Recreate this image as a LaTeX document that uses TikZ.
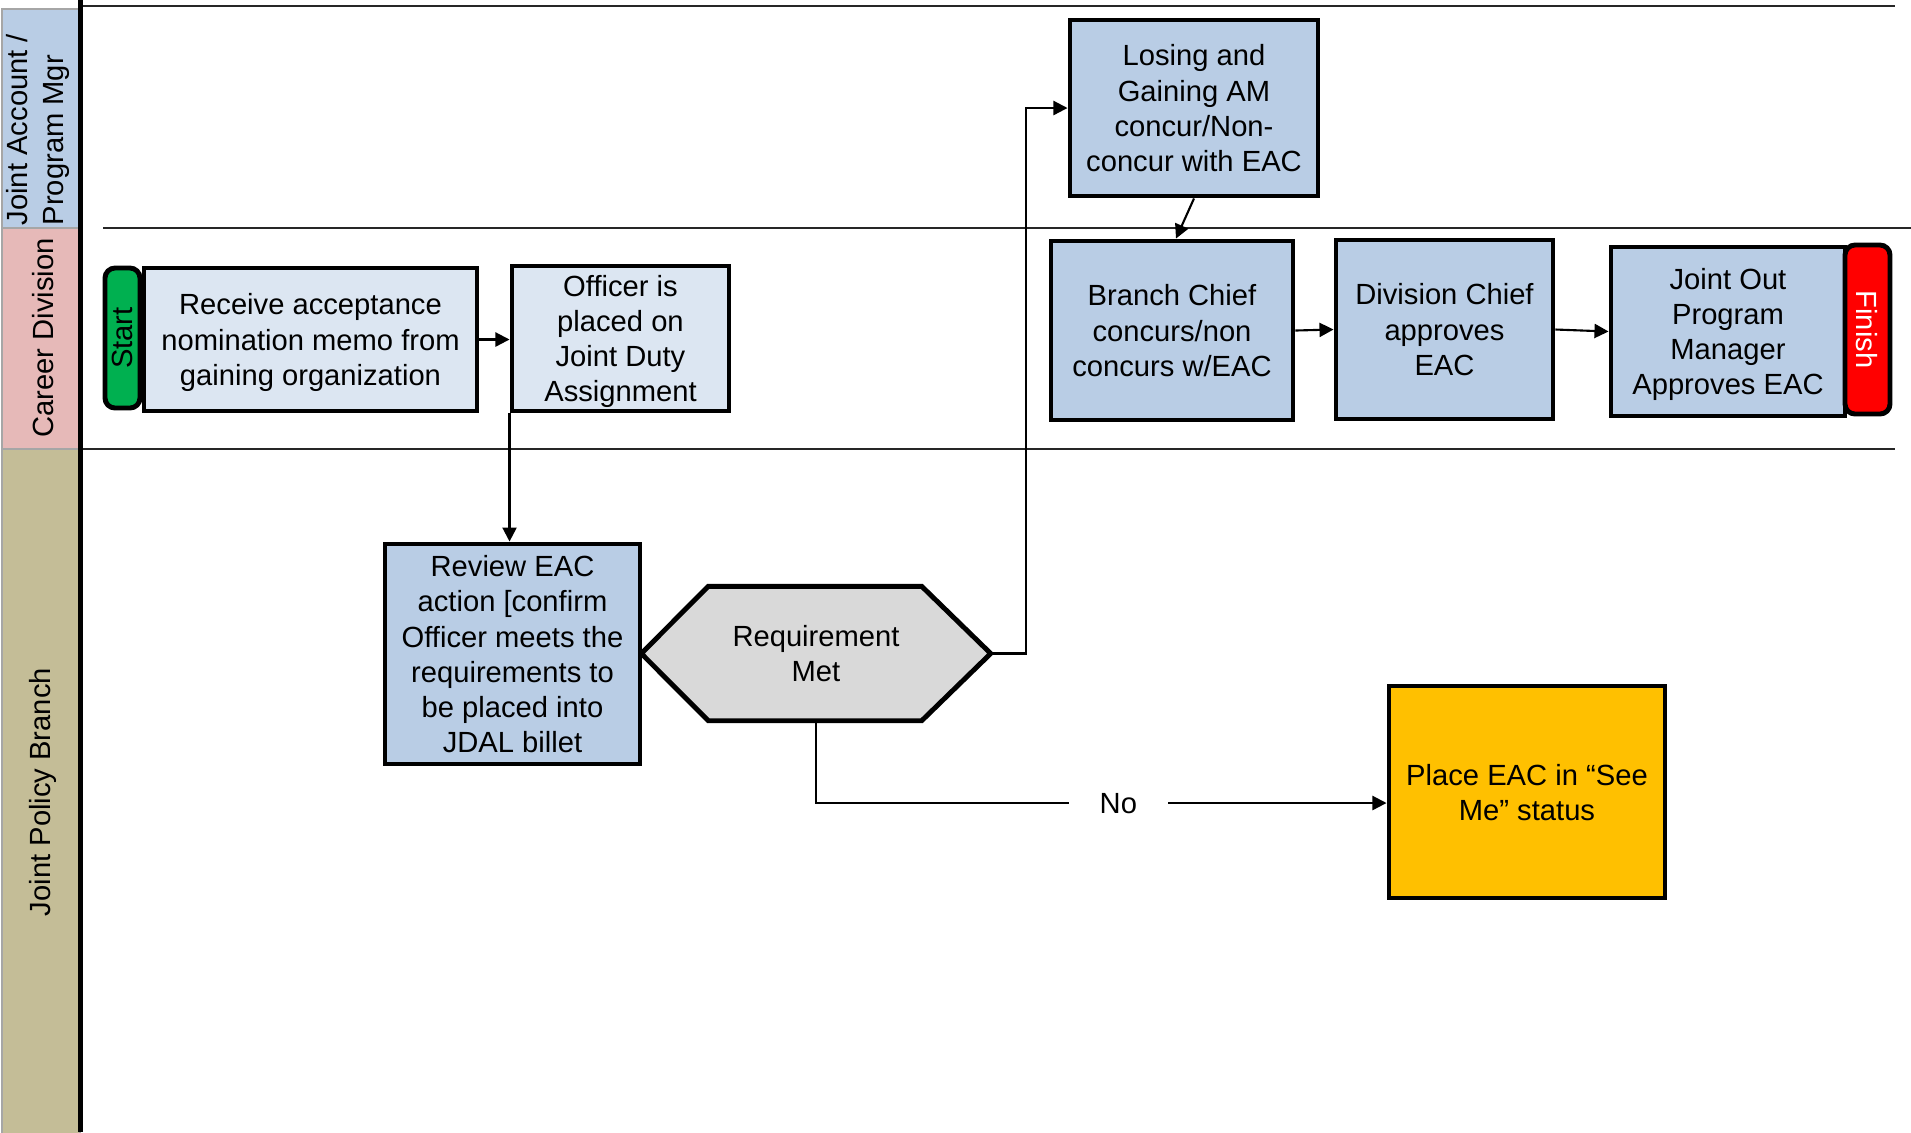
\documentclass[tikz,border=0pt]{standalone}
\usepackage{fontspec}
\setmainfont{Liberation Sans}
\usetikzlibrary{arrows.meta,calc,backgrounds}

\definecolor{laneblue}{HTML}{B9CDE5}
\definecolor{lanepink}{HTML}{E6B9B8}
\definecolor{lanetan}{HTML}{C4BD97}
\definecolor{boxlight}{HTML}{DCE6F2}
\definecolor{boxblue}{HTML}{B9CDE5}
\definecolor{decgray}{HTML}{D9D9D9}
\definecolor{seeme}{HTML}{FFC000}
\definecolor{startgreen}{HTML}{00B050}
\definecolor{finishred}{HTML}{FF0000}

\begin{document}
\begin{tikzpicture}[x=0.1mm,y=-0.1mm,
  every node/.style={font=\fontsize{8.3pt}{10pt}\selectfont, inner sep=0pt, align=center, text depth=0pt},
  proc/.style={draw=black, line width=1.4pt, fill=boxblue},
  lightproc/.style={proc, fill=boxlight},
  term/.style={draw=black, line width=1.4pt, rounded corners=1mm},
  flow/.style={line width=0.6pt, -{Triangle[length=4pt,width=4pt]}},
  laneline/.style={line width=0.6pt, black!85},
  lanehead/.style={draw=gray!70, line width=0.5pt},
]
\useasboundingbox (0,0) rectangle (1911,1132);

% swimlane headers
\path[lanehead, fill=laneblue] (2,9) rectangle (80,228);
\path[lanehead, fill=lanepink] (2,228) rectangle (80,449);
\path[lanehead, fill=lanetan] (2,449) rectangle (80,1140);
\draw[line width=1.7pt] (80.5,0) -- (80.5,1132);

\node[rotate=90, anchor=west, align=left] (hdrjam) at (35,226) {Joint Account /\\Program Mgr};
\node[rotate=90] (hdrcd) at (42.5,338) {Career Division};
\node[rotate=90] (hdrjpb) at (40,792) {Joint Policy Branch};

% lane separators
\draw[laneline] (83,6) -- (1895,6);
\draw[laneline] (103,228) -- (1911,228);
\draw[laneline] (83,449) -- (1895,449);

% Career Division lane
\node[term, fill=startgreen, rotate=90, minimum width=14mm, minimum height=3.5mm] (start) at (122.5,338) {Start};
\node[lightproc, minimum width=33.3mm, minimum height=14.3mm] (recv) at (310.5,339.5)
  {Receive acceptance\\nomination memo from\\gaining organization};
\node[lightproc, minimum width=21.7mm, minimum height=14.5mm] (officer) at (620.5,338.5)
  {Officer is\\placed on\\Joint Duty\\Assignment};
\node[proc, minimum width=24.2mm, minimum height=17.9mm] (branch) at (1172,330.5)
  {Branch Chief\\concurs/non\\concurs w/EAC};
\node[proc, minimum width=21.7mm, minimum height=17.9mm] (division) at (1444.5,329.5)
  {Division Chief\\approves\\EAC};
\node[proc, minimum width=23.4mm, minimum height=16.9mm] (jointout) at (1728,331.5)
  {Joint Out\\Program\\Manager\\Approves EAC};
\node[term, fill=finishred, text=white, rotate=-90, minimum width=16.9mm, minimum height=4.5mm] (finish) at (1867.5,329.5) {Finish};

% Joint Account / Program Mgr lane
\node[proc, minimum width=24.8mm, minimum height=17.6mm] (losing) at (1194,108)
  {Losing and\\Gaining AM\\concur/Non-\\concur with EAC};

% Joint Policy Branch lane
\node[proc, minimum width=25.5mm, minimum height=22mm] (review) at (512.5,654)
  {Review EAC\\action [confirm\\Officer meets the\\requirements to\\be placed into\\JDAL billet};
\node[minimum width=34.8mm, minimum height=13.3mm] (req) at (816,653.5) {Requirement\\Met};
\begin{scope}[on background layer]
  \draw[line width=1.4pt, fill=decgray]
    (req.west) -- ($(req.north west)+(67,0)$) -- ($(req.north east)+(-69,0)$) -- (req.east)
    -- ($(req.south east)+(-69,0)$) -- ($(req.south west)+(67,0)$) -- cycle;
\end{scope}
\node[proc, fill=seeme, minimum width=27.6mm, minimum height=21.2mm] (place) at (1527,792)
  {Place EAC in “See\\Me” status};

% connectors
\draw[flow] (recv.east) -- (recv.east -| officer.west);
\draw[flow] (officer.south west) -- (officer.south west |- review.north);
\coordinate (riser) at (1026,108);
\draw[flow] (req.east) -| (riser) -- (losing.west);
\draw[flow] (losing.south) -- ($(branch.north)+(4,0)$);
\draw[flow] (branch.east) -- (division.west);
\draw[flow] (division.east) -- (jointout.west);
\coordinate (nocorner) at (req.south |- 0,803);
\draw[flow] (req.south) -- (nocorner)
  -- node[pos=0.53, fill=white, minimum width=9.9mm, minimum height=5mm] (nolbl) {No} (place.west |- nocorner);
\end{tikzpicture}
\end{document}
